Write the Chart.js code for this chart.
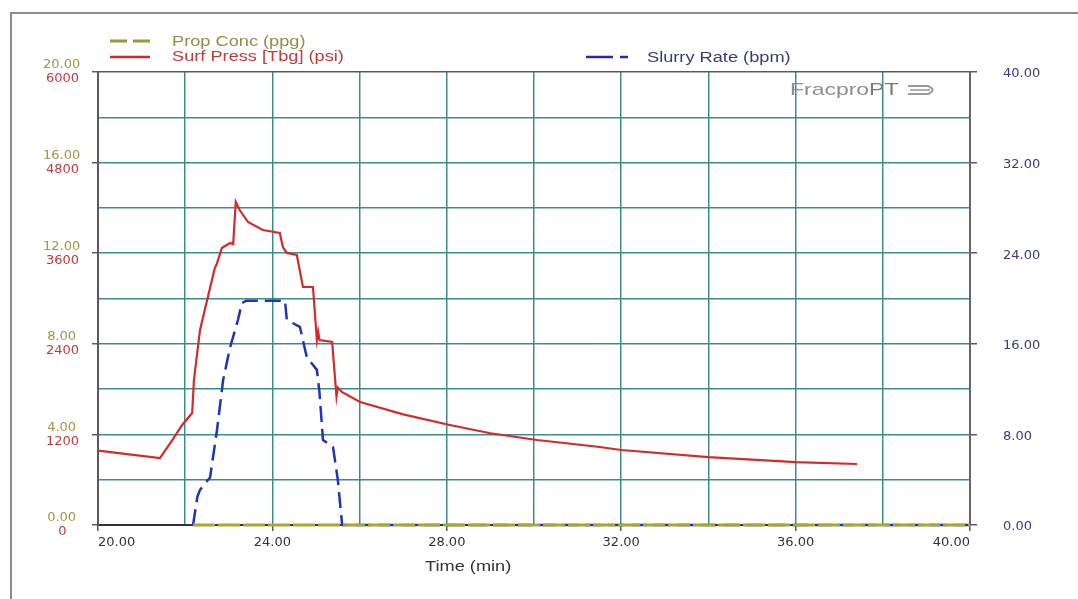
<!DOCTYPE html>
<html>
<head>
<meta charset="utf-8">
<script src="https://cdn.jsdelivr.net/npm/chart.js@4.4.1/dist/chart.umd.min.js"></script>
<style>
  html, body { margin: 0; padding: 0; background: #fff; }
  #wrap { position: relative; width: 1078px; height: 599px; overflow: hidden; }
  #frame { position: absolute; left: 10px; top: 12px; width: 1100px; height: 620px;
           border-left: 2px solid #8c8c8c; border-top: 2px solid #8c8c8c; }
  canvas { position: absolute; left: 0; top: 0; }
  .lbl { position: absolute; font-family: "Liberation Sans", Arial, sans-serif; font-size: 14px;
         line-height: 16px; white-space: nowrap; transform: scaleX(1.3); transform-origin: left center; }
  svg.sw { position: absolute; overflow: visible; }
</style>
</head>
<body>
<div id="wrap">
  <div id="frame"></div>
  <canvas id="c" width="1078" height="599"></canvas>

  <!-- legend -->
  <svg class="sw" style="left:110px;top:36px" width="42" height="10">
    <line x1="0" y1="5" x2="40" y2="5" stroke="#9a9a34" stroke-width="3" stroke-dasharray="17,6"/>
  </svg>
  <div class="lbl" style="left:172px;top:33px;color:#8f8f44">Prop Conc (ppg)</div>
  <svg class="sw" style="left:110px;top:52px" width="42" height="10">
    <line x1="0" y1="5" x2="40" y2="5" stroke="#cc2a2a" stroke-width="2.5"/>
  </svg>
  <div class="lbl" style="left:172px;top:48px;color:#c23a3a">Surf Press [Tbg] (psi)</div>
  <svg class="sw" style="left:586px;top:52px" width="46" height="10">
    <line x1="0" y1="5" x2="42" y2="5" stroke="#2a2a9a" stroke-width="2.5" stroke-dasharray="27,7"/>
  </svg>
  <div class="lbl" style="left:647px;top:49px;color:#3a3a80">Slurry Rate (bpm)</div>

  <!-- logo -->
  <div class="lbl" style="left:790px;top:80px;font-size:17px;line-height:20px;color:#8e8e8e;transform:scaleX(1.35)">Fracpro<span style="color:#7a7a7a">PT</span></div>
  <svg class="sw" style="left:906px;top:83px" width="32" height="14">
    <path d="M2 3 H22 Q31 7 22 11 H2" fill="none" stroke="#9a9a9a" stroke-width="2"/>
    <line x1="4" y1="7" x2="24" y2="7" stroke="#b0b0b0" stroke-width="2"/>
  </svg>

  <!-- axis title -->
  <div class="lbl" style="left:425px;top:558px;color:#333">Time (min)</div>
</div>

<script>
// Surface pressure (psi) vs time (min)
const pressTime = [20.00, 21.42, 21.70, 21.93, 22.16, 22.20, 22.34, 22.52, 22.68, 22.72, 22.84,
                   23.03, 23.10, 23.16, 23.25, 23.44, 23.78, 24.17, 24.24, 24.33, 24.56, 24.70,
                   24.93, 25.02, 25.05, 25.08, 25.37, 25.44, 25.47, 25.50, 25.60, 26.01, 27.00,
                   28.07, 29.00, 30.07, 31.51, 32.00, 34.00, 36.00, 37.41];
const pressVals = [984, 887, 1120, 1325, 1483, 1920, 2583, 3020, 3404, 3450, 3669,
                   3735, 3720, 4278, 4172, 4013, 3907, 3867, 3682, 3603, 3576, 3152,
                   3152, 2450, 2560, 2450, 2424, 1920, 1700, 1820, 1760, 1629, 1465,
                   1325, 1215, 1126, 1033, 993, 900, 834, 808];

// Slurry rate (bpm) vs time (min)
const rateTime = [22.18, 22.28, 22.34, 22.57, 22.73, 22.87, 23.03, 23.21, 23.30, 23.40,
                  24.29, 24.33, 24.63, 24.79, 25.02, 25.08, 25.16, 25.39, 25.50, 25.60, 40.00];
const rateVals = [0, 2.5, 3.1, 4.2, 8.4, 12.8, 15.7, 18.1, 19.6, 19.8,
                  19.8, 18.1, 17.5, 14.8, 13.7, 11.7, 7.5, 6.9, 4.0, 0, 0];

// Proppant concentration (ppg) vs time (min)
const concTime = [22.18, 40.00];
const concVals = [0, 0];

// tick labels
const timeLabels  = ['20.00', '24.00', '28.00', '32.00', '36.00', '40.00'];
const pressLabels = ['0', '1200', '2400', '3600', '4800', '6000'];
const concLabels  = ['0.00', '4.00', '8.00', '12.00', '16.00', '20.00'];
const rateLabels  = ['0.00', '8.00', '16.00', '24.00', '32.00', '40.00'];

const teal = '#3f8b8b';
const edge = '#5a5a5a';
const none = 'rgba(0,0,0,0)';
const tickFont = { family: 'DejaVu Sans', size: 13 };

const pts = (xs, ys) => xs.map((x, i) => ({ x, y: ys[i] }));
const pick = (arr, v, step, base) => {
  const i = (v - base) / step;
  return Number.isInteger(i) && arr[i] !== undefined ? arr[i] : '';
};

new Chart(document.getElementById('c'), {
  type: 'line',
  data: {
    datasets: [
      {
        label: 'Prop Conc (ppg)',
        data: pts(concTime, concVals),
        yAxisID: 'yC',
        borderColor: '#a8a82c',
        borderWidth: 3,
        borderDash: [22, 3],
        pointRadius: 0,
        clip: 4,
        order: 0,
      },
      {
        label: 'Surf Press [Tbg] (psi)',
        data: pts(pressTime, pressVals),
        yAxisID: 'yP',
        borderColor: '#d42a2a',
        borderWidth: 2.2,
        pointRadius: 0,
        order: 1,
      },
      {
        label: 'Slurry Rate (bpm)',
        data: pts(rateTime, rateVals),
        yAxisID: 'yR',
        borderColor: '#2233bb',
        borderWidth: 2.5,
        borderDash: [16, 7],
        pointRadius: 0,
        clip: 4,
        order: 2,
      },
    ],
  },
  options: {
    responsive: false,
    animation: false,
    layout: { padding: { top: 72, left: 0, right: 0, bottom: 0 } },
    plugins: { legend: { display: false }, tooltip: { enabled: false } },
    scales: {
      x: {
        type: 'linear',
        position: 'bottom',
        min: 20,
        max: 40,
        ticks: {
          stepSize: 2,
          autoSkip: false,
          maxRotation: 0,
          align: 'inner',
          padding: 4,
          color: '#333',
          font: tickFont,
          callback: (v) => pick(timeLabels, v, 4, 20),
        },
        grid: {
          lineWidth: 1.5,
          tickLength: 6,
          color: (c) => (c.tick && (c.tick.value === 20 || c.tick.value === 40)) ? edge : teal,
          tickColor: (c) => (c.tick && c.tick.value % 4 === 0) ? edge : none,
        },
        border: { color: '#333', width: 2 },
        afterFit: (s) => { s.height = 74; },
      },
      yP: {
        position: 'left',
        weight: 1,
        min: 0,
        max: 6000,
        ticks: {
          stepSize: 600,
          autoSkip: false,
          padding: 13,
          crossAlign: 'center',
          labelOffset: 7,
          color: '#c23a3a',
          font: tickFont,
          callback: (v) => pick(pressLabels, v, 1200, 0),
        },
        grid: {
          lineWidth: 1.5,
          tickLength: 6,
          color: (c) => (c.tick && (c.tick.value === 0 || c.tick.value === 6000)) ? edge : teal,
          tickColor: (c) => (c.tick && c.tick.value % 1200 === 0) ? edge : none,
        },
        border: { color: edge, width: 2 },
        afterFit: (s) => { s.width = 98; },
      },
      // zero-width axis sitting on the plot edge; mirrored so its labels are not clipped
      yC: {
        position: 'left',
        weight: 0,
        min: 0,
        max: 20,
        ticks: {
          stepSize: 2,
          autoSkip: false,
          mirror: true,
          padding: -55,
          crossAlign: 'center',
          labelOffset: -7,
          color: '#9a9a44',
          font: tickFont,
          callback: (v) => pick(concLabels, v, 4, 0),
        },
        grid: { display: false },
        border: { display: false },
        afterFit: (s) => { s.width = 0; },
      },
      yR: {
        position: 'right',
        min: 0,
        max: 40,
        ticks: {
          stepSize: 4,
          autoSkip: false,
          padding: 26,
          labelOffset: 2,
          color: '#3a3a80',
          font: tickFont,
          callback: (v) => pick(rateLabels, v, 8, 0),
        },
        grid: {
          drawOnChartArea: false,
          lineWidth: 1.5,
          tickLength: 7,
          tickColor: (c) => (c.tick && c.tick.value % 8 === 0) ? edge : none,
        },
        border: { color: '#666', width: 2 },
        afterFit: (s) => { s.width = 108; },
      },
    },
  },
});
</script>
</body>
</html>
